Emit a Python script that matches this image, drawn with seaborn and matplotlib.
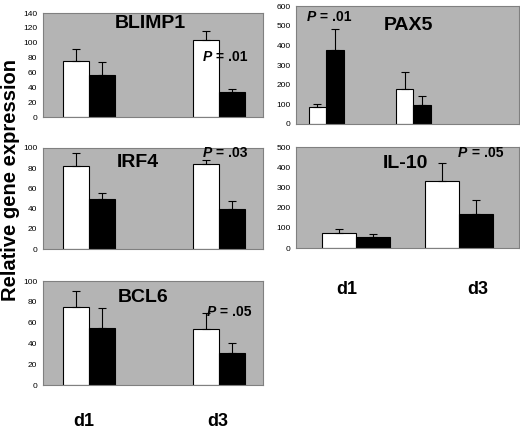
import numpy as np
import pandas as pd
import seaborn as sns
import matplotlib
matplotlib.use("Agg")
import matplotlib.pyplot as plt

sns.set_style("white")
plt.rcParams['font.family'] = ['Liberation Sans', 'DejaVu Sans']
plt.rcParams['text.color'] = 'black'
plt.rcParams['ytick.labelcolor'] = 'black'

days = ["d1", "d3"]
groups = ["ctrl", "treated"]

# bar heights (white, black) per day, and top of error bar
blimp1_white = [76, 104]
blimp1_black = [56, 34]
blimp1_white_top = [92, 116]
blimp1_black_top = [74, 38]

pax5_white = [84, 178]
pax5_black = [376, 97]
pax5_white_top = [101, 266]
pax5_black_top = [481, 143]

irf4_white = [82, 84]
irf4_black = [50, 40]
irf4_white_top = [95, 88]
irf4_black_top = [55, 48]

il10_white = [72, 334]
il10_black = [56, 169]
il10_white_top = [92, 421]
il10_black_top = [67, 238]

bcl6_white = [75, 54]
bcl6_black = [55, 31]
bcl6_white_top = [90, 69]
bcl6_black_top = [74, 40]

W, H = 520, 430
fig = plt.figure(figsize=(W / 100, H / 100), dpi=100)


def panel(box, white, black, wtop, btop, ymax, ystep, title, title_xy,
          ptext, p_xy, width, xlim):
    x0, y0, x1, y1 = box
    ax = fig.add_axes([x0 / W, 1 - y1 / H, (x1 - x0) / W, (y1 - y0) / H])
    df = pd.DataFrame({
        "day": days * 2,
        "group": [groups[0]] * 2 + [groups[1]] * 2,
        "value": white + black,
    })
    sns.barplot(data=df, x="day", y="value", hue="group", order=days,
                hue_order=groups, palette=["white", "black"], width=width,
                edgecolor="black", linewidth=0.8, errorbar=None,
                legend=False, ax=ax, zorder=2)
    tops = wtop + btop
    for bar, top in zip(ax.patches, tops):
        cx = bar.get_x() + bar.get_width() / 2
        h = bar.get_height()
        ax.errorbar(cx, h, yerr=[[0], [top - h]], fmt="none",
                    ecolor="black", elinewidth=0.8, capsize=3,
                    capthick=0.8, zorder=3)
    ax.set_facecolor("#b4b4b4")
    ax.set_ylim(0, ymax)
    ax.set_xlim(*xlim)
    ax.set_yticks(np.arange(0, ymax + 1, ystep))
    ax.tick_params(axis="y", labelsize=6, length=2, pad=2, color="#555555")
    ax.set_xticks([])
    ax.set_xlabel("")
    ax.set_ylabel("")
    for s in ax.spines.values():
        s.set_color("#808080")
        s.set_linewidth(0.8)
    fig.text(title_xy[0] / W, 1 - title_xy[1] / H, title, fontsize=14,
             fontweight="bold", ha="center", va="center")
    fig.text(p_xy[0] / W, 1 - p_xy[1] / H, "P", fontsize=10,
             fontweight="bold", fontstyle="italic", ha="left", va="center")
    fig.text((p_xy[0] + 9.5) / W, 1 - p_xy[1] / H, " = " + ptext,
             fontsize=10, fontweight="bold", ha="left", va="center")
    return ax


panel((43, 13, 263, 117), blimp1_white, blimp1_black, blimp1_white_top,
      blimp1_black_top, 140, 20, "BLIMP1", (150, 24), ".01", (203, 57),
      0.4, (-0.357, 1.34))
panel((296, 6, 519, 124), pax5_white, pax5_black, pax5_white_top,
      pax5_black_top, 600, 100, "PAX5", (408, 25), ".01", (307, 17),
      0.4, (-0.345, 2.21))
panel((43, 148, 263, 249), irf4_white, irf4_black, irf4_white_top,
      irf4_black_top, 100, 20, "IRF4", (138, 163), ".03", (203, 153),
      0.4, (-0.357, 1.34))
panel((296, 147, 519, 248), il10_white, il10_black, il10_white_top,
      il10_black_top, 500, 100, "IL-10", (405, 164), ".05", (458, 153),
      0.66, (-0.588, 1.588))
panel((43, 281, 263, 385), bcl6_white, bcl6_black, bcl6_white_top,
      bcl6_black_top, 100, 20, "BCL6", (143, 297), ".05", (207, 312),
      0.4, (-0.357, 1.34))

# day labels
for lab, x, y in [("d1", 84, 421), ("d3", 218, 421),
                  ("d1", 347, 290), ("d3", 478, 290)]:
    fig.text(x / W, 1 - y / H, lab, fontsize=13, fontweight="bold",
             ha="center", va="center")

fig.text(11 / W, 1 - 180 / H, "Relative gene expression", fontsize=14.5,
         fontweight="bold", rotation=90, ha="center", va="center")

fig.savefig("out.png", dpi=100)
